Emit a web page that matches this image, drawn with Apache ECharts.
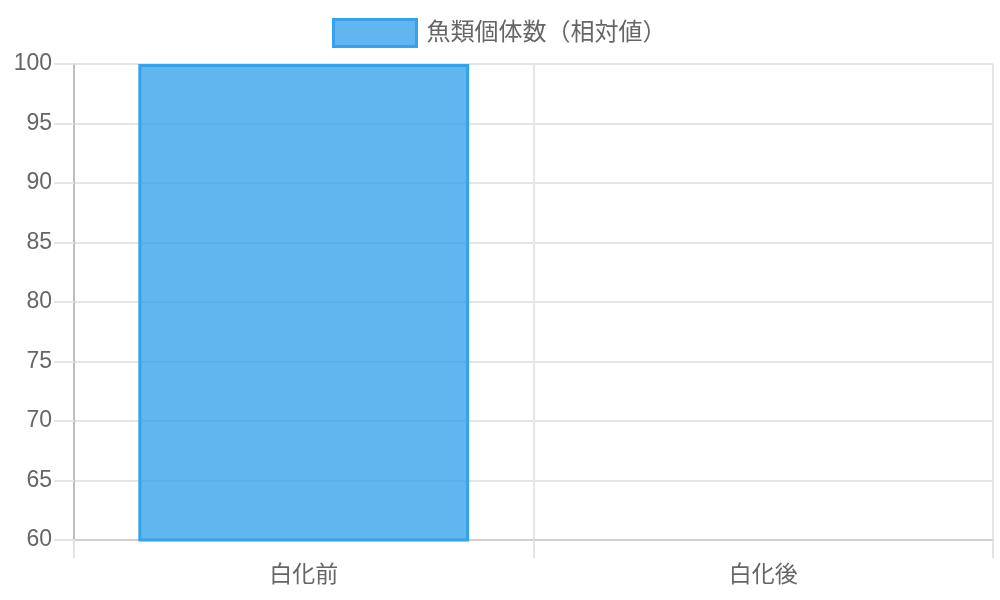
<!DOCTYPE html>
<html><head><meta charset="utf-8">
<script src="https://cdn.jsdelivr.net/npm/echarts@6/dist/echarts.min.js"></script>
<style>html,body{margin:0;padding:0;background:#fff}#c{width:1000px;height:600px}</style>
</head><body><div id="c"></div>
<script>
const categories = ['白化前', '白化後'];
const seriesName = '魚類個体数（相対値）';
const values = [100, 40];
const yTicks = { min: 60, max: 100, interval: 5 };

const FONT = '"Liberation Sans", "Noto Sans CJK JP", sans-serif';
const chart = echarts.init(document.getElementById('c'));
chart.setOption({
  animation: false,
  textStyle: { fontFamily: FONT },
  legend: {
    top: 18, left: 332, padding: 0,
    icon: 'rect',
    itemWidth: 83, itemHeight: 27, itemGap: 10,
    itemStyle: { color: 'rgba(54,162,235,0.78)', borderColor: '#36A2EB', borderWidth: 3 },
    textStyle: { color: '#666', fontSize: 24, fontFamily: FONT, padding: [2, 0, 0, 5] },
    data: [seriesName]
  },
  grid: { left: 74, right: 7, top: 64, bottom: 60, containLabel: false },
  xAxis: {
    type: 'category', data: categories, boundaryGap: true,
    axisLine: { show: true, lineStyle: { color: '#d0d0d0', width: 2 } },
    axisTick: { show: true, length: 18, lineStyle: { color: '#e3e3e3', width: 2 }, alignWithLabel: false },
    splitLine: { show: true, lineStyle: { color: '#e5e5e5', width: 2 } },
    axisLabel: { color: '#666', fontSize: 23, margin: 24, fontFamily: FONT }
  },
  yAxis: {
    type: 'value', min: yTicks.min, max: yTicks.max, interval: yTicks.interval,
    axisLine: { show: true, lineStyle: { color: '#b0b0b0', width: 1.5 } },
    axisTick: { show: true, length: 20, lineStyle: { color: '#e5e5e5', width: 2 } },
    splitLine: { show: true, lineStyle: { color: '#e5e5e5', width: 2 } },
    axisLabel: { color: '#666', fontSize: 23, margin: 22, fontFamily: FONT }
  },
  series: [{
    name: seriesName, type: 'bar', data: values, barWidth: '72%', clip: true,
    itemStyle: { color: 'rgba(54,162,235,0.78)', borderColor: '#36A2EB', borderWidth: 3 }
  }]
});
</script></body></html>
